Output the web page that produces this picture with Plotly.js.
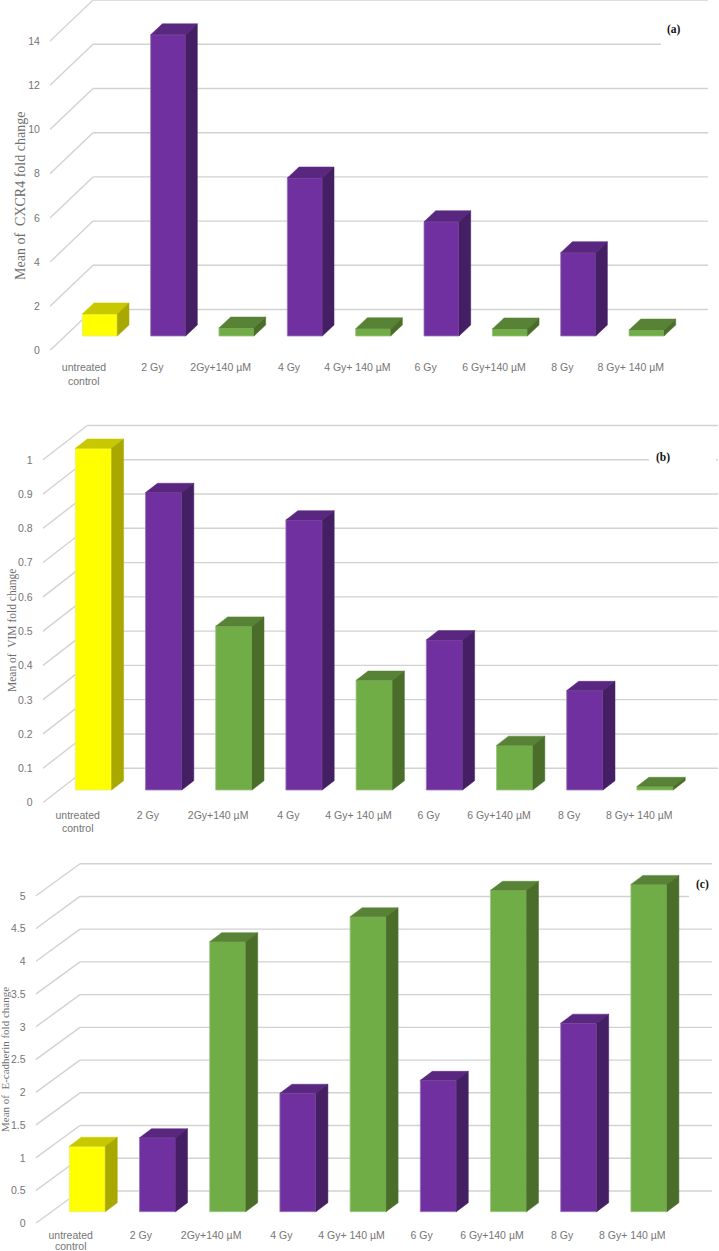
<!DOCTYPE html>
<html><head><meta charset="utf-8">
<script src="https://cdn.plot.ly/plotly-3.0.1.min.js"></script>
<style>html,body{margin:0;padding:0;background:#fff}#c{width:719px;height:1251px}</style>
</head><body><div id="c"></div>
<script>
// ---------- data ----------
const categories = ['untreated','2 Gy','2Gy+140 µM','4 Gy','4 Gy+ 140 µM','6 Gy','6 Gy+140 µM','8 Gy','8 Gy+ 140 µM'];
const firstCategorySecondLine = 'control';
const groups = ['control','radiation','combined','radiation','combined','radiation','combined','radiation','combined'];
const cxcr4Values = [1.0, 13.63, 0.36, 7.15, 0.33, 5.17, 0.32, 3.77, 0.27];
const vimValues = [0.997, 0.868, 0.478, 0.788, 0.32, 0.438, 0.13, 0.29, 0.01];
const ecadValues = [1.0, 1.13, 4.125, 1.81, 4.506, 2.007, 4.91, 2.88, 5.0];
const cxcr4Ticks = [0,2,4,6,8,10,12,14];
const vimTicks = [0,0.1,0.2,0.3,0.4,0.5,0.6,0.7,0.8,0.9,1];
const ecadTicks = [0,0.5,1,1.5,2,2.5,3,3.5,4,4.5,5];
const cxcr4Title = 'Mean of  CXCR4 fold change';
const vimTitle = 'Mean of  VIM fold change';
const ecadTitle = 'Mean of  E-cadherin fold change';

// ---------- styling ----------
const W = 719, H = 1251;
const palette = {
  control:  {front:'#FFFF00', top:'#C8C800', side:'#A8A800', edge:'#E8E88C'},
  radiation:{front:'#7030A0', top:'#5A2780', side:'#451F64', edge:'#9A78B4'},
  combined: {front:'#70AD47', top:'#588235', side:'#4A6E2A', edge:'#9CC484'}
};
const GRID = '#d2d2d2', TICK = '#757575';
const TICKFONT = '"Liberation Sans Narrow", "Liberation Sans", sans-serif';
const panels = [
  {values:cxcr4Values, ticks:cxcr4Ticks, title:cxcr4Title, tag:'(a)',
   x0:50, wallDx:43, wallDy:41, y0:350.5, yTop:0, pxUnit:22.1, floorPx:14.5, barL0:82.3, barW:35, sp:68.34, labelC0:84,
   dpx:11.7, dpy:11, right:708, gapFrom:661, gapTo:null, xTickLen:7, line2Y:381,
   titleX:21, titleY:196, titleSize:14, tagX:674, tagY:30},
  {values:vimValues, ticks:vimTicks, title:vimTitle, tag:'(b)',
   x0:42.7, wallDx:44.5, wallDy:34.5, y0:802.7, yTop:420, pxUnit:342.7, floorPx:12.7, barL0:75.3, barW:36.3, sp:70.2, labelC0:77.7,
   dpx:12, dpy:9.3, right:718, gapFrom:649, gapTo:716, xTickLen:3, line2Y:827.5,
   titleX:12, titleY:631, titleSize:11.5, tagX:663, tagY:457},
  {values:ecadValues, ticks:ecadTicks, title:ecadTitle, tag:'(c)',
   x0:35.7, wallDx:44.3, wallDy:32.3, y0:1223.3, yTop:855, pxUnit:65.46, floorPx:11.6, barL0:69.3, barW:36, sp:70.2, labelC0:70.7,
   dpx:12, dpy:9, right:712, gapFrom:689, gapTo:null, xTickLen:2, line2Y:1245.5,
   titleX:5, titleY:1060, titleSize:11, tagX:702, tagY:884}
];

const traces = [], shapes = [], annotations = [];
const layout = {width:W, height:H, margin:{l:0,r:0,t:0,b:0}, paper_bgcolor:'#fff', plot_bgcolor:'rgba(0,0,0,0)', showlegend:false, bargap:0};

panels.forEach((p, k) => {
  const n = k === 0 ? '' : String(k + 1);
  const xa = 'x' + n, ya = 'y' + n;
  const xData = px => (px - p.labelC0) / p.sp;
  const yOff = p.floorPx / p.pxUnit;
  const barW = p.barW / p.sp;
  const dx = p.dpx / p.sp, dy = p.dpy / p.pxUnit;
  const centers = categories.map((c, i) => xData(p.barL0 + p.barW / 2 + i * p.sp));

  layout['xaxis' + n] = {
    domain:[p.x0 / W, 1], range:[xData(p.x0), xData(W)], anchor:ya,
    tickmode:'array', tickvals:categories.map((c, i) => i), ticktext:categories,
    tickangle:0, ticks:'outside', ticklen:p.xTickLen, tickcolor:'rgba(0,0,0,0)',
    tickfont:{family:TICKFONT, size:10.5, color:TICK},
    showgrid:false, zeroline:false, showline:false
  };
  layout['yaxis' + n] = {
    domain:[1 - p.y0 / H, 1 - p.yTop / H], range:[0, (p.y0 - p.yTop) / p.pxUnit], anchor:xa,
    tickmode:'array', tickvals:p.ticks, ticktext:p.ticks.map(String),
    ticks:'outside', ticklen:7, tickcolor:'rgba(0,0,0,0)',
    tickfont:{family:TICKFONT, size:10.5, color:TICK},
    showgrid:false, zeroline:false, showline:false
  };

  // wall gridlines, drawn beneath every bar
  const wd = p.wallDy / p.pxUnit;
  const line = (x1, y1, x2, y2) => shapes.push({type:'line', layer:'below', xref:xa, yref:ya, x0:x1, y0:y1, x1:x2, y1:y2, line:{color:GRID, width:1.4}});
  const tagTick = p.ticks[p.ticks.length - 2];
  p.ticks.forEach(t => {
    const xw = xData(p.x0 + p.wallDx);
    line(xData(p.x0), t, xw, t + wd);
    if (t === tagTick) {
      // the panel tag interrupts the wall line one step below the top one
      line(xw, t + wd, xData(p.gapFrom), t + wd);
      if (p.gapTo) line(xData(p.gapTo), t + wd, xData(p.right), t + wd);
    } else {
      line(xw, t + wd, xData(p.right), t + wd);
    }
  });

  // front faces
  traces.push({type:'bar', xaxis:xa, yaxis:ya, x:centers, y:p.values, base:p.values.map(() => yOff), width:barW,
    marker:{color:groups.map(g => palette[g].front), line:{color:groups.map(g => palette[g].edge), width:0.8}},
    hoverinfo:'skip'});

  // top and side faces, one filled trace per colour
  ['control','radiation','combined'].forEach(g => {
    const tx = [], ty = [], sx = [], sy = [];
    p.values.forEach((v, i) => {
      if (groups[i] !== g) return;
      const l = centers[i] - barW / 2, r = centers[i] + barW / 2, b = yOff, t = yOff + v;
      tx.push(l, l + dx, r + dx, r, l, null); ty.push(t, t + dy, t + dy, t, t, null);
      sx.push(r, r + dx, r + dx, r, r, null); sy.push(b, b + dy, t + dy, t, b, null);
    });
    traces.push({type:'scatter', mode:'lines', xaxis:xa, yaxis:ya, x:tx, y:ty, fill:'toself', fillcolor:palette[g].top, line:{color:palette[g].top, width:0.5}, hoverinfo:'skip'});
    traces.push({type:'scatter', mode:'lines', xaxis:xa, yaxis:ya, x:sx, y:sy, fill:'toself', fillcolor:palette[g].side, line:{color:palette[g].side, width:0.5}, hoverinfo:'skip'});
  });

  annotations.push({xref:xa, yref:'paper', x:0, y:1 - p.line2Y / H, xanchor:'center', yanchor:'middle', showarrow:false, borderpad:0,
    text:firstCategorySecondLine, font:{family:TICKFONT, size:10.5, color:TICK}});
  annotations.push({xref:'paper', yref:'paper', x:p.titleX / W, y:1 - p.titleY / H, xanchor:'center', yanchor:'middle', showarrow:false, textangle:-90,
    text:p.title, font:{family:'"Liberation Serif", serif', size:p.titleSize, color:'#6f6f6f'}});
  annotations.push({xref:'paper', yref:'paper', x:p.tagX / W, y:1 - p.tagY / H, xanchor:'center', yanchor:'middle', showarrow:false,
    text:'<b>' + p.tag + '</b>', font:{family:'"Liberation Serif", serif', size:11.5, color:'#111'}});
});

layout.shapes = shapes;
layout.annotations = annotations;
Plotly.newPlot('c', traces, layout, {displayModeBar:false, staticPlot:true});
</script></body></html>
